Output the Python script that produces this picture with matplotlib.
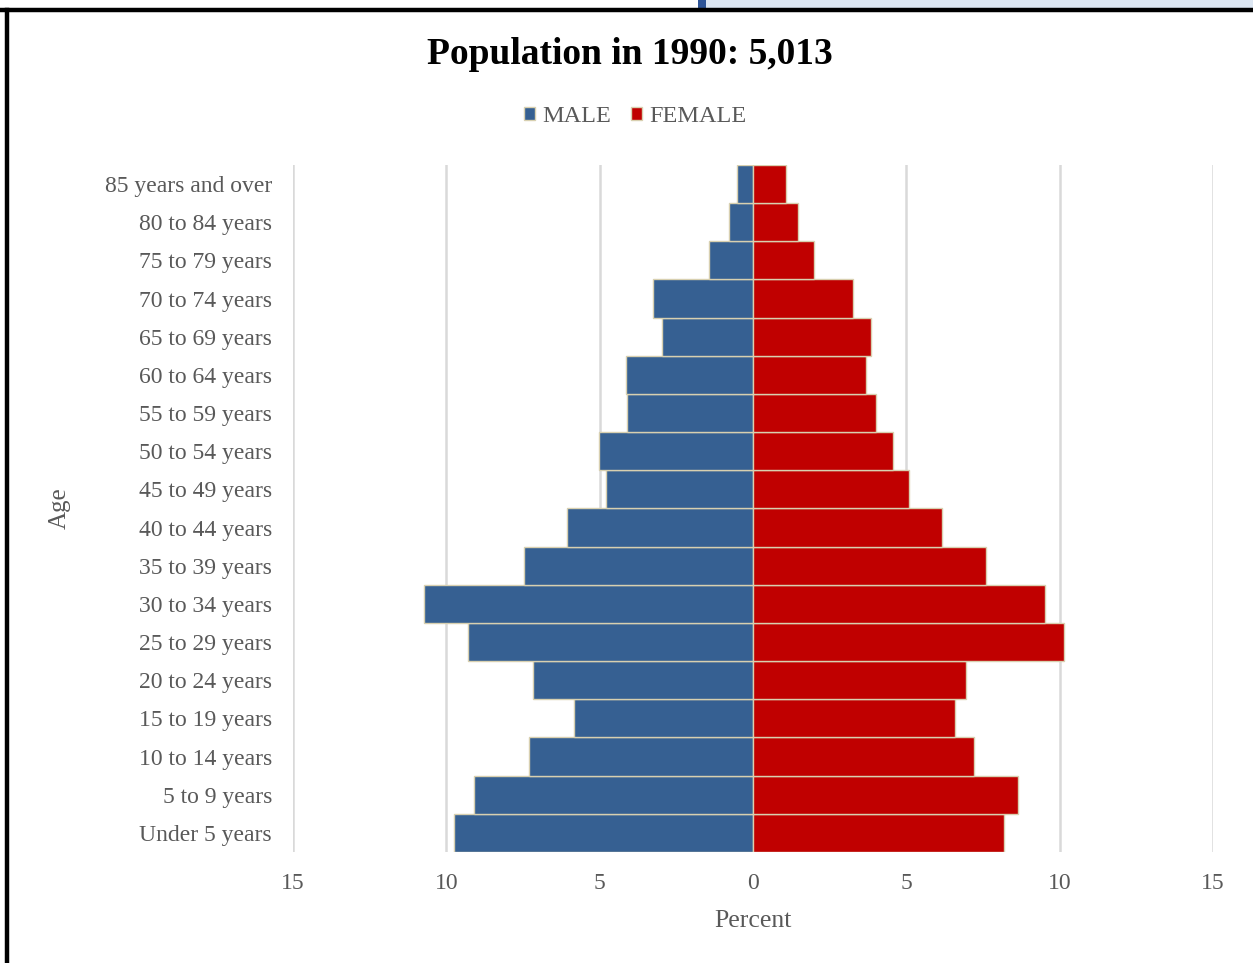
import numpy as np
import matplotlib
matplotlib.use('Agg')
import matplotlib.pyplot as plt
from matplotlib.patches import Rectangle
from matplotlib.lines import Line2D
from matplotlib.ticker import FuncFormatter

plt.rcParams['font.family'] = ['Liberation Serif', 'DejaVu Serif']

# age groups, bottom to top
age_groups = ['Under 5 years', '5 to 9 years', '10 to 14 years', '15 to 19 years',
              '20 to 24 years', '25 to 29 years', '30 to 34 years', '35 to 39 years',
              '40 to 44 years', '45 to 49 years', '50 to 54 years', '55 to 59 years',
              '60 to 64 years', '65 to 69 years', '70 to 74 years', '75 to 79 years',
              '80 to 84 years', '85 years and over']
male_pct = [9.74, 9.08, 7.29, 5.85, 7.16, 9.28, 10.72, 7.48, 6.05, 4.80,
            5.03, 4.12, 4.15, 2.97, 3.27, 1.44, 0.78, 0.52]
female_pct = [8.20, 8.66, 7.22, 6.60, 6.96, 10.13, 9.51, 7.61, 6.18, 5.10,
              4.58, 4.02, 3.69, 3.86, 3.27, 1.99, 1.47, 1.08]
x_ticks = [-15, -10, -5, 0, 5, 10, 15]

male_col = '#366092'
female_col = '#c00000'
edge_col = '#d8d0b0'
text_col = '#595959'

fig = plt.figure(figsize=(12.53, 9.63), dpi=100)
ax = fig.add_axes([0.2338, 0.1153, 0.7342, 0.7134])

y = np.arange(len(age_groups))
ax.barh(y, -np.array(male_pct), height=1.0, color=male_col, edgecolor=edge_col, linewidth=1.0, zorder=3)
ax.barh(y, female_pct, height=1.0, color=female_col, edgecolor=edge_col, linewidth=1.0, zorder=3)

ax.set_xlim(-15, 15)
ax.set_ylim(-0.5, len(age_groups) - 0.5)
ax.set_xticks(x_ticks)
ax.xaxis.set_major_formatter(FuncFormatter(lambda v, p: '%d' % abs(v)))
ax.set_yticks(y)
ax.set_yticklabels(age_groups)
ax.tick_params(axis='both', length=0, labelsize=17, labelcolor=text_col)
ax.tick_params(axis='x', pad=15)
ax.tick_params(axis='y', pad=15)
ax.grid(axis='x', color='#d9d9d9', linewidth=1.8, zorder=0)
for s in ax.spines.values():
    s.set_visible(False)

ax.set_xlabel('Percent', fontsize=18.5, color=text_col, labelpad=11.5)
fig.text(0.048, 0.472, 'Age', rotation=90, fontsize=18, color=text_col, ha='center', va='center')

fig.text(0.503, 0.943, 'Population in 1990: 5,013', fontsize=27, fontweight='bold',
         ha='center', va='center', color='black')

handles = [Rectangle((0, 0), 1, 1, facecolor=male_col, edgecolor=edge_col),
           Rectangle((0, 0), 1, 1, facecolor=female_col, edgecolor=edge_col)]
fig.legend(handles, ['MALE', 'FEMALE'], loc='center', bbox_to_anchor=(0.507, 0.879),
           ncol=2, frameon=False, fontsize=17.5, labelcolor=text_col,
           handlelength=0.45, handleheight=0.45, handletextpad=0.3, columnspacing=0.85)

# frame lines and strip at the top
fig.add_artist(Line2D([0, 1], [1 - 10 / 963] * 2, color='black', linewidth=3.2, transform=fig.transFigure))
fig.add_artist(Line2D([7 / 1253] * 2, [0, 1 - 10 / 963], color='black', linewidth=3.2, transform=fig.transFigure))
fig.add_artist(Rectangle((706 / 1253, 1 - 8 / 963), 1, 8 / 963, facecolor='#dce6f2', edgecolor='none',
                         transform=fig.transFigure))
fig.add_artist(Rectangle((698 / 1253, 1 - 8 / 963), 8 / 1253, 8 / 963, facecolor='#2f5597', edgecolor='none',
                         transform=fig.transFigure))

fig.savefig('out.png', dpi=100)
